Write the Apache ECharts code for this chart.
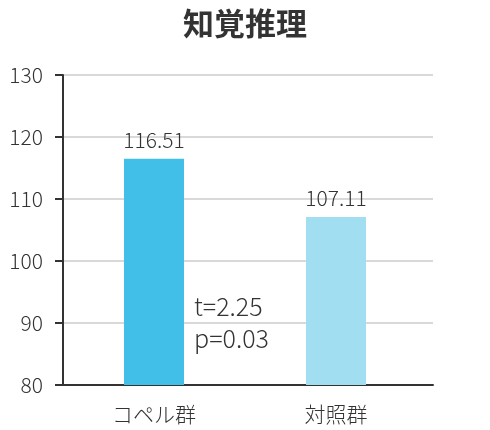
<!DOCTYPE html>
<html>
<head>
<meta charset="utf-8">
<script src="https://cdn.jsdelivr.net/npm/echarts@6/dist/echarts.min.js"></script>
<style>
html,body{margin:0;padding:0;background:#fff;}
#main{width:490px;height:430px;}
</style>
</head>
<body>
<div id="main"></div>
<script>
var titleText = '知覚推理';
var categories = ['コペル群', '対照群'];
var values = [116.51, 107.11];
var barColors = ['#41BFE8', '#A1DEF2'];
var yMin = 80, yMax = 130, yInterval = 10;
var statText = 't=2.25\np=0.03';

var font = '"Noto Sans CJK JP", "Noto Sans", sans-serif';
var chart = echarts.init(document.getElementById('main'));
chart.setOption({
  backgroundColor: '#fff',
  animation: false,
  textStyle: { fontFamily: font },
  title: {
    text: titleText,
    left: 'center',
    top: 3,
    textStyle: { fontSize: 31, fontWeight: 'bold', color: '#333', fontFamily: font }
  },
  grid: [
    { left: 63, right: 57, top: 75, bottom: 45 },
    { left: 63, right: 63, top: 75, bottom: 45 }
  ],
  xAxis: [
    {
      gridIndex: 0, type: 'category', data: categories,
      axisLine: { show: true, lineStyle: { color: '#333', width: 2 } },
      axisTick: { show: false }, axisLabel: { show: false }, splitLine: { show: false }
    },
    {
      gridIndex: 1, type: 'category', data: categories,
      axisLine: { show: false }, axisTick: { show: false },
      axisLabel: { fontSize: 21, fontWeight: 300, color: '#333', margin: 19, fontFamily: font }
    }
  ],
  yAxis: [
    {
      gridIndex: 0, type: 'value', min: yMin, max: yMax, interval: yInterval,
      axisLine: { show: true, lineStyle: { color: '#333', width: 2 } },
      axisTick: { show: true, length: 8, lineStyle: { color: '#333', width: 2 } },
      axisLabel: { fontSize: 21, fontWeight: 300, color: '#333', margin: 20, fontFamily: font },
      splitLine: { show: true, lineStyle: { color: '#cccccc', width: 1.5 } }
    },
    {
      gridIndex: 1, type: 'value', min: yMin, max: yMax, interval: yInterval,
      show: false
    }
  ],
  series: [{
    type: 'bar',
    xAxisIndex: 1, yAxisIndex: 1,
    barWidth: 60,
    data: values.map(function (v, i) { return { value: v, itemStyle: { color: barColors[i] } }; }),
    label: {
      show: true, position: 'top', distance: 8,
      fontSize: 21, fontWeight: 300, color: '#333', fontFamily: font
    }
  }],
  graphic: [{
    type: 'text',
    left: 194, top: 290,
    style: { text: statText, fontSize: 25, fontWeight: 300, lineHeight: 32, fill: '#333', fontFamily: font }
  }]
});
</script>
</body>
</html>
